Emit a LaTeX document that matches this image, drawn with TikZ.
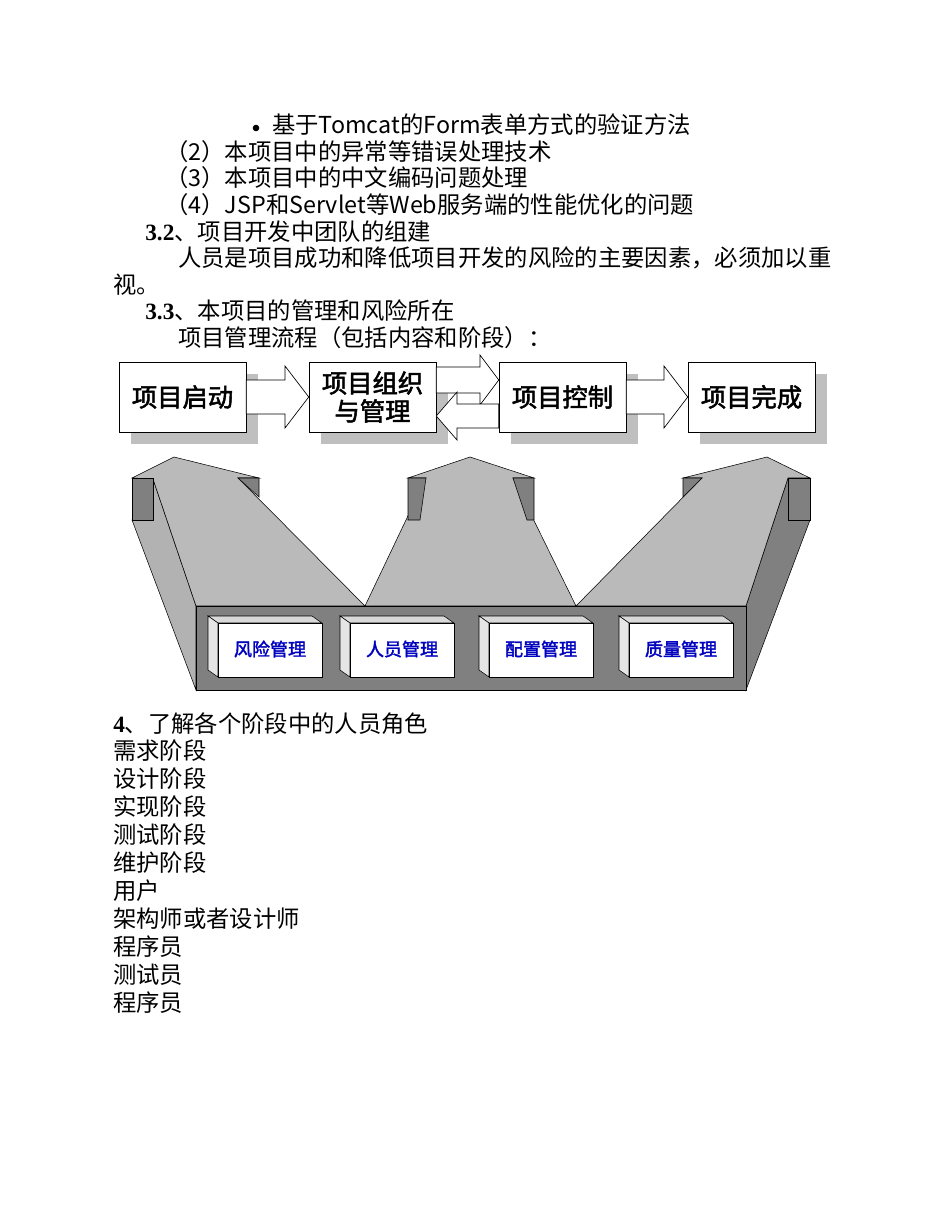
\documentclass[tikz,border=0pt]{standalone}
\usepackage{fontspec}
\newfontfamily\cjk[AutoFakeBold=2]{Noto Sans CJK SC}
\newfontfamily\tnr{Liberation Serif}
\begin{document}
\begin{tikzpicture}[x=0.75pt,y=-0.75pt,
  txt/.style={anchor=west,inner sep=0pt,font=\cjk\fontsize{17.5pt}{20pt}\selectfont},
  pbox/.style={draw=black,fill=white,minimum width=95.25pt,minimum height=52.5pt,inner sep=0pt,align=center,font=\cjk\bfseries\fontsize{19pt}{21pt}\selectfont},
  shd/.style={fill=black!25,draw=none},
  blk/.style={draw=black,fill=white,line width=0.5pt},
  lg/.style={fill=black!27,draw=black,line width=0.4pt},
  dg/.style={fill=black!50,draw=black,line width=0.4pt},
  mtxt/.style={text=blue!75!black,font=\cjk\bfseries\fontsize{13.5pt}{15pt}\selectfont,inner sep=0pt}]
\useasboundingbox (0,0) rectangle (950,1230);
% text
\fill (256,128) circle (3.3);
\node[txt] (t1) at (272,125) {基于Tomcat的Form表单方式的验证方法};
\node[txt] (t2) at (165,152) {（2）本项目中的异常等错误处理技术};
\node[txt] (t3) at (165,178) {（3）本项目中的中文编码问题处理};
\node[txt] (t4) at (165,205) {（4）JSP和Servlet等Web服务端的性能优化的问题};
\node[txt] (t5) at (145,232) {{\tnr\bfseries 3.2}、项目开发中团队的组建};
\node[txt] (t6) at (178,258) {人员是项目成功和降低项目开发的风险的主要因素，必须加以重};
\node[txt] (t7) at (113,285) {视。};
\node[txt] (t8) at (145,311) {{\tnr\bfseries 3.3}、本项目的管理和风险所在};
\node[txt] (t9) at (178,338) {项目管理流程（包括内容和阶段）：};
\node[txt] (u0) at (113,724) {{\tnr\bfseries 4}、了解各个阶段中的人员角色};
\node[txt] (u1) at (113,751) {需求阶段};
\node[txt] (u2) at (113,779) {设计阶段};
\node[txt] (u3) at (113,807) {实现阶段};
\node[txt] (u4) at (113,835) {测试阶段};
\node[txt] (u5) at (113,863) {维护阶段};
\node[txt] (u6) at (113,891) {用户};
\node[txt] (u7) at (113,919) {架构师或者设计师};
\node[txt] (u8) at (113,947) {程序员};
\node[txt] (u9) at (113,975) {测试员};
\node[txt] (u10) at (113,1003) {程序员};
% shadows
\foreach \x in {119,309,499,688}
  \fill[shd] (\x+12,374) rectangle (\x+139,444);
% boxes
\node[pbox] (b1) at (182.5,397) {项目启动};
\node[pbox] (b2) at (372.5,397) {项目组织\\与管理};
\node[pbox] (b3) at (562.5,397) {项目控制};
\node[pbox] (b4) at (751.5,397) {项目完成};
% hollow arrows
\draw[blk] (b1.east|-0,380) -- (285,380) -- (285,366) -- (b2.west|-0,397) -- (285,428) -- (285,414) -- (b1.east|-0,414) -- cycle;
\draw[blk] (b3.east|-0,380) -- (664,380) -- (664,366) -- (b4.west|-0,397) -- (664,428) -- (664,414) -- (b3.east|-0,414) -- cycle;
\draw[blk] (b2.east|-0,367) -- (480,367) -- (480,355) -- (b3.west|-0,380) -- (480,405) -- (480,393) -- (b2.east|-0,393) -- cycle;
\draw[blk] (b3.west|-0,404) -- (457,404) -- (457,392) -- (b2.east|-0,416) -- (457,440) -- (457,428) -- (b3.west|-0,428) -- cycle;
% lower 3D arrow group
\draw[fill=black!30,draw=black,line width=0.4pt] (132,520) -- (153,479) -- (196,606) -- (196,690) -- cycle;
\draw[dg] (788,478) -- (810,478) -- (810,520) -- (746,690) -- (746,606) -- cycle;
\draw[lg] (153,479) -- (132,478) -- (174,457) -- (259,478) -- (238,478) -- (365,606)
  -- (426,478) -- (408,478) -- (470,457) -- (534,478) -- (513,478) -- (576,606)
  -- (702,478) -- (683,478) -- (767,457) -- (810,478) -- (788,478) -- (746,606) -- (196,606) -- cycle;
\draw[dg] (132,478) rectangle (153,520);
\draw[dg] (238,478) -- (259,478) -- (259,497) -- cycle;
\draw[dg] (408,478) -- (426,478) -- (420,520) -- (408,520) -- cycle;
\draw[dg] (513,478) -- (534,478) -- (534,520) -- (527,520) -- cycle;
\draw[dg] (683,478) -- (702,478) -- (683,497) -- cycle;
\draw[dg] (788,478) rectangle (810,520);
\draw[dg] (196,606) rectangle (746,690);
% small 3D boxes
\foreach \x/\n/\t in {208/m1/风险管理,340/m2/人员管理,479/m3/配置管理,619/m4/质量管理}{
  \draw[fill=black!15,draw=black,line width=0.4pt] (\x,616) -- (\x+104,616) -- (\x+114,623) -- (\x+10,623) -- cycle;
  \draw[fill=black!10,draw=black,line width=0.4pt] (\x,616) -- (\x+10,623) -- (\x+10,677) -- (\x,670) -- cycle;
  \draw[fill=white,draw=black,line width=0.4pt] (\x+10,623) rectangle (\x+114,677);
  \node[mtxt] (\n) at (\x+62,649) {\t};
}
\end{tikzpicture}
\end{document}
